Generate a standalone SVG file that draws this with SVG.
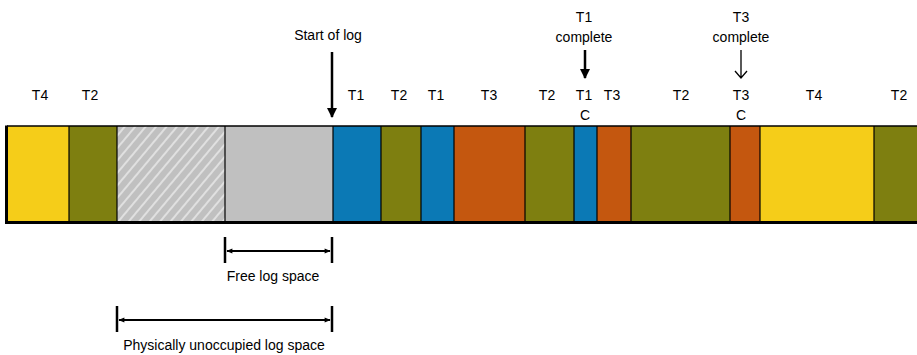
<svg xmlns="http://www.w3.org/2000/svg" width="917" height="355" viewBox="0 0 917 355">
  <style>
    text { font-family: "Liberation Sans", Arial, sans-serif; font-size: 14px; fill: #000; text-anchor: middle; }
    .div { stroke: #000; stroke-width: 1.2; }
    .y { fill: #f5cd19; }
    .o { fill: #7e7f10; }
    .b { fill: #0b79b5; }
    .r { fill: #c4570f; }
    .g { fill: #c0c0c0; }
    .dim { stroke: #000; stroke-width: 2; fill: none; }
    .tick { stroke: #000; stroke-width: 2.5; }
  </style>
  <defs>
    <pattern id="hatch" patternUnits="userSpaceOnUse" width="8" height="8" patternTransform="rotate(40)">
      <rect width="8" height="8" fill="#c0c0c0"/>
      <line x1="1" y1="0" x2="1" y2="8" stroke="#f2f2f2" stroke-width="1.3"/>
    </pattern>
    <marker id="ah" viewBox="0 0 10 10" refX="9" refY="5" markerWidth="4" markerHeight="4" orient="auto-start-reverse">
      <path d="M0,0 L10,5 L0,10 z" fill="#000"/>
    </marker>
    <marker id="dh" viewBox="0 0 10 10" refX="9" refY="5" markerWidth="4" markerHeight="3" orient="auto-start-reverse">
      <path d="M0,1 L10,5 L0,9 z" fill="#000"/>
    </marker>
  </defs>

  <g id="log-bar">
    <rect id="seg1" class="y" x="7" y="126" width="62" height="97"/>
    <rect id="seg2" class="o" x="69" y="126" width="48" height="97"/>
    <rect id="seg3" fill="url(#hatch)" x="117" y="126" width="108" height="97"/>
    <rect id="seg4" class="g" x="225" y="126" width="108" height="97"/>
    <rect id="seg5" class="b" x="333" y="126" width="48" height="97"/>
    <rect id="seg6" class="o" x="381" y="126" width="40" height="97"/>
    <rect id="seg7" class="b" x="421" y="126" width="33" height="97"/>
    <rect id="seg8" class="r" x="454" y="126" width="71" height="97"/>
    <rect id="seg9" class="o" x="525" y="126" width="49" height="97"/>
    <rect id="seg10" class="b" x="574" y="126" width="23" height="97"/>
    <rect id="seg11" class="r" x="597" y="126" width="34" height="97"/>
    <rect id="seg12" class="o" x="631" y="126" width="99" height="97"/>
    <rect id="seg13" class="r" x="730" y="126" width="30" height="97"/>
    <rect id="seg14" class="y" x="760" y="126" width="114" height="97"/>
    <rect id="seg15" class="o" x="874" y="126" width="45" height="97"/>
    <g class="div">
      <line x1="69" y1="126" x2="69" y2="223"/>
      <line x1="117" y1="126" x2="117" y2="223"/>
      <line x1="225" y1="126" x2="225" y2="223"/>
      <line x1="333" y1="126" x2="333" y2="223"/>
      <line x1="381" y1="126" x2="381" y2="223"/>
      <line x1="421" y1="126" x2="421" y2="223"/>
      <line x1="454" y1="126" x2="454" y2="223"/>
      <line x1="525" y1="126" x2="525" y2="223"/>
      <line x1="574" y1="126" x2="574" y2="223"/>
      <line x1="597" y1="126" x2="597" y2="223"/>
      <line x1="631" y1="126" x2="631" y2="223"/>
      <line x1="730" y1="126" x2="730" y2="223"/>
      <line x1="760" y1="126" x2="760" y2="223"/>
      <line x1="874" y1="126" x2="874" y2="223"/>
    </g>
    <line x1="7" y1="126" x2="917" y2="126" stroke="#000" stroke-width="1.5"/>
    <line x1="5" y1="222.5" x2="917" y2="222.5" stroke="#000" stroke-width="3"/>
    <line x1="6.5" y1="125.5" x2="6.5" y2="224" stroke="#000" stroke-width="3"/>
  </g>

  <g id="labels">
    <text x="40" y="100">T4</text>
    <text x="90" y="100">T2</text>
    <text x="356" y="100">T1</text>
    <text x="399" y="100">T2</text>
    <text x="436" y="100">T1</text>
    <text x="489" y="100">T3</text>
    <text x="547" y="100">T2</text>
    <text x="584" y="100">T1</text>
    <text x="612" y="100">T3</text>
    <text x="681" y="100">T2</text>
    <text x="741" y="100">T3</text>
    <text x="814" y="100">T4</text>
    <text x="899" y="100">T2</text>
    <text x="585" y="120">C</text>
    <text x="741" y="120">C</text>
  </g>

  <g id="start-of-log">
    <text x="328" y="40">Start of log</text>
  </g>
  <g id="t1-complete">
    <text x="584" y="22">T1</text>
    <text x="584" y="42">complete</text>
  </g>
  <g id="t3-complete">
    <text x="741" y="22">T3</text>
    <text x="741" y="42">complete</text>
  </g>

  <g id="free-log-space">
    <line class="tick" x1="225" y1="237" x2="225" y2="263"/>
    <line class="tick" x1="332" y1="237" x2="332" y2="263"/>
    <text x="273" y="281">Free log space</text>
  </g>
  <g id="physically-unoccupied">
    <line class="tick" x1="117" y1="306" x2="117" y2="332"/>
    <line class="tick" x1="332" y1="306" x2="332" y2="332"/>
    <text x="224" y="350">Physically unoccupied log space</text>
  </g>

  <g id="connectors">
    <line x1="332" y1="52" x2="332" y2="117" stroke="#000" stroke-width="2.5" marker-end="url(#ah)"/>
    <line x1="585" y1="50" x2="585" y2="78" stroke="#000" stroke-width="2.5" marker-end="url(#ah)"/>
    <path d="M741,50 L741,78 M735,71 L741,78 L747,71" stroke="#000" stroke-width="1.3" fill="none"/>
    <line class="dim" x1="227" y1="251" x2="330" y2="251" marker-start="url(#dh)" marker-end="url(#dh)"/>
    <line class="dim" x1="119" y1="320" x2="330" y2="320" marker-start="url(#dh)" marker-end="url(#dh)"/>
  </g>
</svg>
